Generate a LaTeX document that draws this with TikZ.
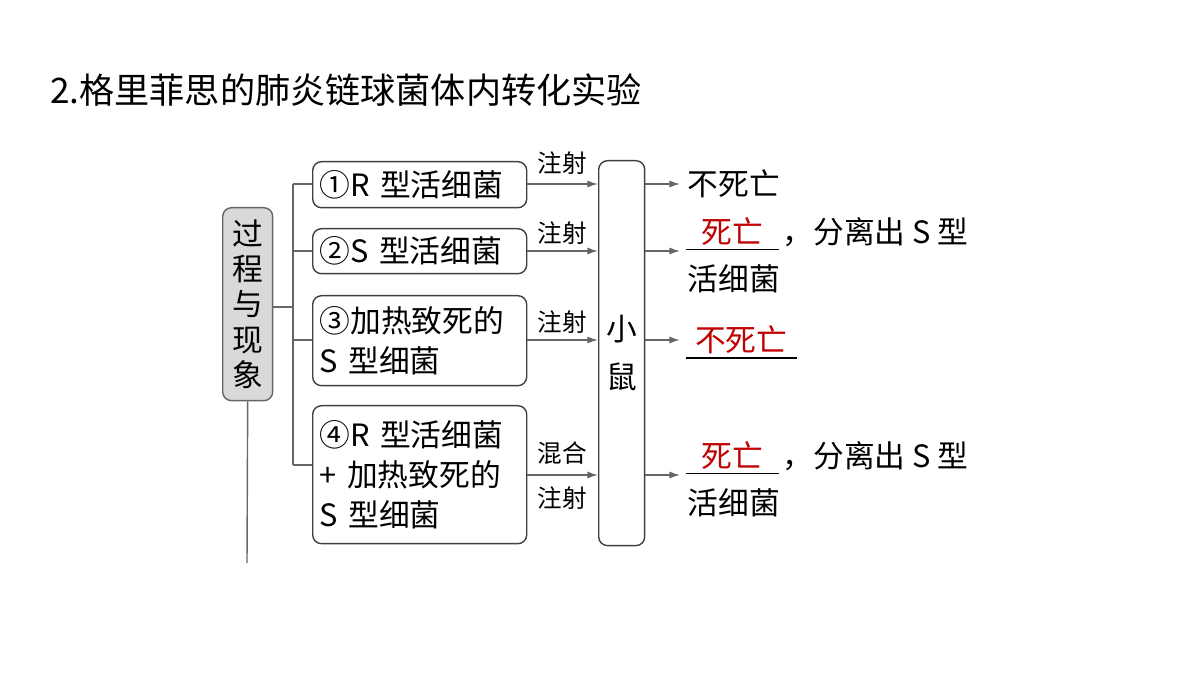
\documentclass[tikz,border=0pt]{standalone}
\usepackage{fontspec}
\setmainfont{Liberation Serif}
\newfontfamily\cjk{Noto Sans CJK SC}
\usetikzlibrary{positioning,arrows.meta}
\definecolor{deadred}{RGB}{192,0,0}
\begin{document}
\begin{tikzpicture}[x=0.02cm, y=-0.02cm, every node/.style={font=\cjk\fontsize{17.5}{23}\selectfont}]
  % Styles
  \tikzset{
    stepbox/.style={draw=black!75, rounded corners=5pt, thick, inner sep=4pt, anchor=north west, align=left, text width=4.0cm},
    lbl/.style={font=\cjk\fontsize{14}{16}\selectfont, inner sep=1pt},
    res/.style={anchor=west, inner sep=2pt},
    link/.style={draw=black!60, thick, -{Latex[length=6pt,width=4pt]}},
    brace/.style={draw=black!60, thick}
  }
  \useasboundingbox (0,0) rectangle (1200,675);

  % Title
  \node[anchor=west, font=\cjk\fontsize{20}{24}\selectfont] (title) at (44,90) {2.格里菲思的肺炎链球菌体内转化实验};

  % Left label
  \node[draw=black!60, fill=black!15, rounded corners=5pt, thick, minimum width=1cm, minimum height=3.86cm, align=center, anchor=north west, inner sep=0pt, font=\cjk\fontsize{17.5}{20}\selectfont] (proc) at (222,207) {过\\程\\与\\现\\象};
  \coordinate (tail) at (247,563);
  \draw[brace] (proc.south) -- (tail);

  % Step boxes
  \node[stepbox, minimum height=0.92cm] (s1) at (312,161) {①R 型活细菌};
  \node[stepbox, minimum height=0.9cm] (s2) at (312,228) {②S 型活细菌};
  \node[stepbox, minimum height=1.8cm] (s3) at (312,295) {③加热致死的\\S 型细菌};
  \node[stepbox, minimum height=2.76cm] (s4) at (312,405) {④R 型活细菌\\+ 加热致死的\\S 型细菌};

  % Mouse
  \node[draw=black!75, rounded corners=5pt, thick, minimum width=0.92cm, minimum height=7.7cm, anchor=north west, align=center, font=\cjk\fontsize{17.5}{27}\selectfont] (mouse) at (598,160) {小\\鼠};

  % Bracket
  \coordinate (bj) at (293,307);
  \coordinate (btop) at (293,184);
  \coordinate (bbot) at (293,465);
  \draw[brace] (proc.east |- bj) -- (bj);
  \draw[brace] (btop) -- (bbot);
  \foreach \s/\yy in {s1/184, s2/251, s3/340, s4/465}
    \draw[brace] (293,\yy) -- (\s.west |- 0,\yy);

  % Arrows to mouse
  \foreach \s/\yy in {s1/184, s2/251, s3/340, s4/475}
    \draw[link] (\s.east |- 0,\yy) -- (mouse.west |- 0,\yy);
  \node[lbl] (l1) at (562,163) {注射};
  \node[lbl] (l2) at (562,233) {注射};
  \node[lbl] (l3) at (562,322) {注射};
  \node[lbl] (l4) at (562,453) {混合};
  \node[lbl] (l5) at (562,498) {注射};

  % Results
  \foreach \r/\yy in {r1/184, r2/251, r3/340, r4/475}
    \coordinate (\r) at (680,\yy);
  \foreach \r in {r1,r2,r3,r4}
    \draw[link] (mouse.east |- \r) -- (\r);

  \node[res] (o1) at (684,184) {不死亡};

  \node[res, text=deadred, minimum width=1.84cm] (o2) at (686,232) {死亡};
  \draw[thick] (o2.south west) -- (o2.south east);
  \node[res, right=0pt of o2] (o2b) {，分离出 S 型};
  \node[res] (o2c) at (684,279) {活细菌};

  \node[res, text=deadred, minimum width=2.2cm] (o3) at (686,340) {不死亡};
  \draw[thick] (o3.south west) -- (o3.south east);

  \node[res, text=deadred, minimum width=1.84cm] (o4) at (686,456) {死亡};
  \draw[thick] (o4.south west) -- (o4.south east);
  \node[res, right=0pt of o4] (o4b) {，分离出 S 型};
  \node[res] (o4c) at (684,503) {活细菌};
\end{tikzpicture}
\end{document}
